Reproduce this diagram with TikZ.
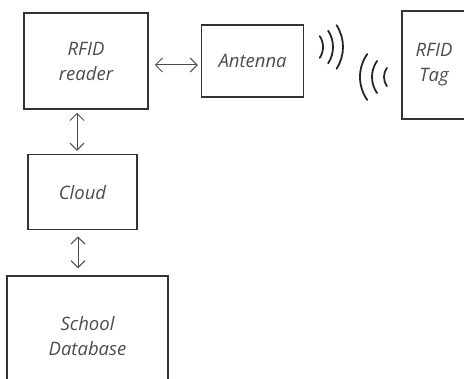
\documentclass[tikz,border=0pt]{standalone}
\usepackage{fontspec}
\setmainfont{Open Sans}
\usetikzlibrary{positioning,arrows.meta}

\begin{document}
\begin{tikzpicture}[
  x=1pt,y=-1pt,
  block/.style={
    draw=black!80,line width=1.6pt,
    minimum width=#1,
    align=center,
    text=black!70,
    font=\fontsize{18.5}{25}\selectfont\itshape,
    },
  link/.style={
    draw=black!70,line width=1pt,
    {Straight Barb[length=7pt,width=14pt]}-{Straight Barb[length=7pt,width=14pt]},
    },
  wave/.style={draw=black!85,line width=1.8pt,line cap=round},
  ]
  \useasboundingbox (0,0) rectangle (464,379);
  \clip (0,0) rectangle (464,379);

  \node[block=124pt,minimum height=96pt] (reader)
    at (86,61) {RFID\\reader};
  \node[block=102pt,minimum height=72pt,right=52pt of reader] (antenna)
    {Antenna};
  \node[block=64pt,minimum height=108pt] (tag)
    at (434,65) {RFID\\Tag};
  \node[block=109pt,minimum height=75pt,below=44pt of reader,xshift=-3.5pt] (cloud)
    {Cloud};
  \node[block=161pt,minimum height=120pt,below=45pt of cloud,xshift=5pt] (db)
    {School\\Database};

  \draw[link,shorten <=6pt,shorten >=3pt]
    ([yshift=-4pt]reader.east) -- ([yshift=-4pt]reader.east -| antenna.west);
  \draw[link,shorten <=3pt,shorten >=3pt]
    ([xshift=-9pt]reader.south) -- ([xshift=-9pt]reader.south |- cloud.north);
  \draw[link,shorten <=6pt,shorten >=7pt]
    ([xshift=-4.5pt]cloud.south) -- ([xshift=-4.5pt]cloud.south |- db.north);

  % radio waves
  \foreach \r in {20,30,40}
    \draw[wave] (303,47) ++(-33:\r) arc[start angle=-33,end angle=33,radius=\r];
  \foreach \r in {16,28,40}
    \draw[wave] (400,77) ++(145:\r) arc[start angle=145,end angle=215,radius=\r];
\end{tikzpicture}
\end{document}
